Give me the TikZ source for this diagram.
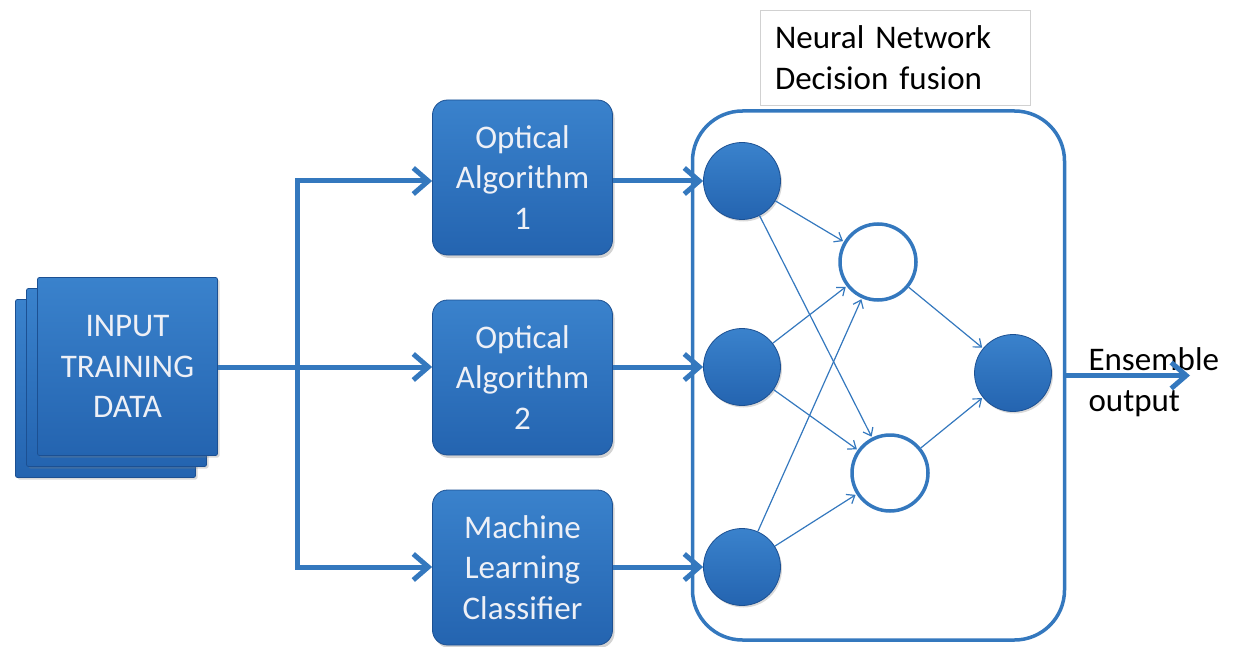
\documentclass[tikz,border=0pt]{standalone}
\usepackage{fontspec}
\setmainfont{Carlito}[WordSpace=0.8]
\usetikzlibrary{arrows.meta,shadows,calc}

\definecolor{nnblue}{RGB}{36,100,176}
\definecolor{nndark}{RGB}{28,80,146}
\definecolor{nnlight}{RGB}{58,130,204}
\definecolor{linkblue}{RGB}{52,120,190}
\definecolor{boxtext}{RGB}{238,240,246}

\begin{document}
\begin{tikzpicture}[x=1pt,y=-1pt,
  bigfont/.style={font=\fontsize{33}{40.5}\selectfont},
  block/.style={draw=nndark, line width=0.8pt, top color=nnlight, bottom color=nnblue,
    rounded corners=15pt, minimum width=180pt, minimum height=155pt, inner sep=0pt,
    text=boxtext, align=center, bigfont,
    drop shadow={opacity=0.35, shadow xshift=2pt, shadow yshift=-3pt}},
  sheet/.style={draw=nndark, line width=0.8pt, top color=nnlight, bottom color=nnblue,
    rounded corners=2pt, minimum width=180pt, minimum height=178pt, inner sep=0pt,
    text=boxtext, align=center, bigfont,
    drop shadow={opacity=0.3, shadow xshift=2pt, shadow yshift=-2pt}},
  neuron/.style={circle, draw=nndark, line width=0.8pt, top color=nnlight, bottom color=nnblue,
    minimum size=77pt, inner sep=0pt,
    drop shadow={opacity=0.3, shadow xshift=1.5pt, shadow yshift=-2pt}},
  hidden/.style={circle, draw=linkblue, line width=3.5pt, fill=white,
    minimum size=76pt, inner sep=0pt},
  flow/.style={draw=linkblue, line width=5pt,
    -{Straight Barb[length=15pt,width=26pt]}},
  link/.style={draw=linkblue, line width=1.2pt, shorten >=1pt,
    -{Straight Barb[length=7pt,width=11pt]}},
  frame/.style={draw=linkblue, line width=3.5pt, rounded corners=50pt,
    minimum width=372pt, minimum height=529pt, inner sep=0pt},
  title/.style={draw=black!18, line width=0.8pt, fill=white, text=black,
    minimum width=270pt, minimum height=95pt, text width=240pt, inner xsep=15pt,
    align=left, bigfont},
]
\useasboundingbox (0,0) rectangle (1247,647);

% stacked input sheets
\node[sheet] (back) at (105.5,388.5) {};
\node[sheet] (mid) at (116.5,377.5) {};
\node[sheet] (input) at (127.5,366.5) {INPUT\\TRAINING\\DATA};

% first-level classifiers
\node[block] (alg1) at (522.5,177.5) {Optical\\Algorithm\\1};
\node[block] (alg2) at (522.5,377.5) {Optical\\Algorithm\\2};
\node[block] (ml)   at (522.5,567.5) {Machine\\Learning\\Classifier};

% fusion network frame and caption
\node[frame] (fusion) at (878.5,375.5) {};
\node[title] (caption) at (895,57.5) {Neural Network\\Decision fusion};

% network neurons
\node[neuron] (i1) at (742,181) {};
\node[neuron] (i2) at (742,367) {};
\node[neuron] (i3) at (742,567) {};
\node[hidden] (h1) at (878,262) {};
\node[hidden] (h2) at (890,473) {};
\node[neuron] (o)  at (1013,373) {};

% distribution bus
\coordinate (bus) at (297,367);
\draw[flow, -] (input.east |- bus) -- (bus);
\draw[flow] (bus) -- (alg2.west |- i2);
\draw[flow, line join=miter] (bus) |- (alg1.west |- i1);
\draw[flow, line join=miter] (bus) |- (ml.west |- i3);

% classifier outputs into the network
\draw[flow] (alg1.east |- i1) -- (i1.west);
\draw[flow] (alg2.east |- i2) -- (i2.west);
\draw[flow] (ml.east |- i3) -- (i3.west);

% weighted connections
\foreach \s in {i1,i2,i3}{
  \draw[link] (\s) -- (h1);
  \draw[link] (\s) -- (h2);
}
\draw[link] (h1) -- (o);
\draw[link] (h2) -- (o);

% ensemble result
\node[bigfont, anchor=west, align=left, text=black] (enslabel) at (1085,382) {Ensemble\\output};
\coordinate (ens) at (1190,375.5);
\draw[flow] (fusion.east) -- (ens);
\end{tikzpicture}
\end{document}
